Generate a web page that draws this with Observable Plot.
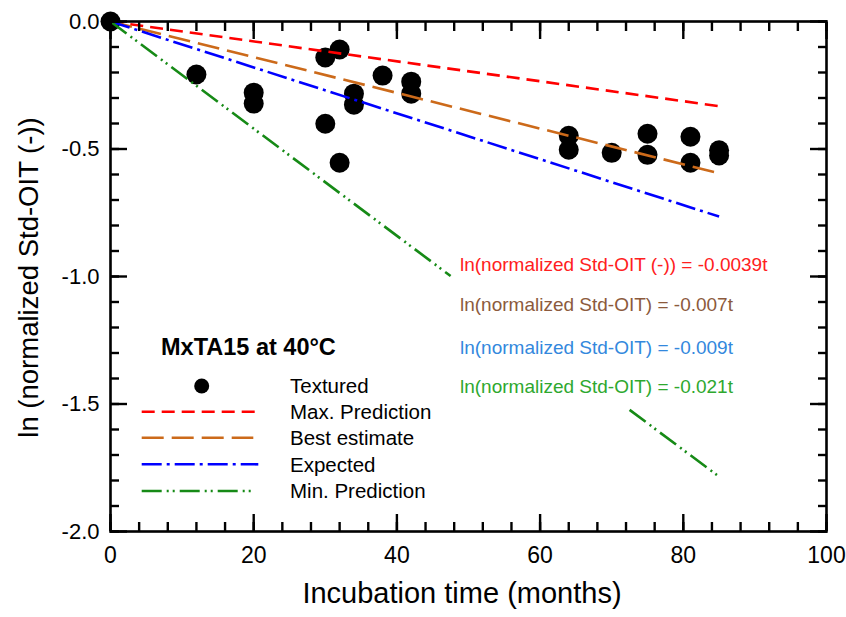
<!DOCTYPE html>
<html>
<head>
<meta charset="utf-8">
<script src="https://cdn.jsdelivr.net/npm/d3@7"></script>
<script src="https://cdn.jsdelivr.net/npm/@observablehq/plot@0.6"></script>
<style>
  html, body { margin: 0; padding: 0; background: #fff; }
  #wrap { position: relative; width: 846px; height: 617px; }
  #legend { position: absolute; left: 0; top: 0; pointer-events: none; }
</style>
</head>
<body>
<div id="wrap"></div>
<script>
// ---- data ----
const sampleTimes  = [0, 12, 20, 20, 30, 32, 30, 32, 34, 34, 38, 42, 42, 64, 64, 70, 75, 75, 81, 81, 85, 85];
const sampleValues = [0, -0.208, -0.279, -0.322, -0.141, -0.110, -0.401, -0.554, -0.283, -0.326, -0.212, -0.236, -0.283, -0.448, -0.503, -0.515, -0.440, -0.523, -0.452, -0.554, -0.505, -0.525];

const seriesNames  = ["Max. Prediction", "Best estimate", "Expected", "Min. Prediction"];
const seriesColors = ["#ff0000", "#cc6a1a", "#0000ff", "#168a16"];
const seriesDashes = ["13,7", "22,8", "20,5,3,5", "20,5,2,4,2,5"];
const maxTimes = [0, 85],   maxValues = [0, -0.332];
const bestTimes = [0, 85],  bestValues = [0, -0.595];
const expTimes = [0, 85],   expValues = [0, -0.765];
const minTimesA = [0, 47.5],  minValuesA = [0, -0.998];
const minTimesB = [72.5, 85], minValuesB = [-1.523, -1.785];

const equationTexts  = [
  "ln(normalized Std-OIT (-)) = -0.0039t",
  "ln(normalized Std-OIT) = -0.007t",
  "ln(normalized Std-OIT) = -0.009t",
  "ln(normalized Std-OIT) = -0.021t"
];
const equationColors = ["#ff2020", "#8c5a3c", "#3388dd", "#2ea82e"];

const xMajor = [0, 20, 40, 60, 80, 100];
const xMinor = [0,4,8,12,16,20,24,28,32,36,40,44,48,52,56,60,64,68,72,76,80,84,88,92,96,100];
const yMajor = [0, -0.5, -1, -1.5, -2];
const yMajorLabels = ["0.0", "-0.5", "-1.0", "-1.5", "-2.0"];
const yMinor = [0,-0.1,-0.2,-0.3,-0.4,-0.5,-0.6,-0.7,-0.8,-0.9,-1,-1.1,-1.2,-1.3,-1.4,-1.5,-1.6,-1.7,-1.8,-1.9,-2];

const xLabel = "Incubation time (months)";
const yLabel = "ln (normalized Std-OIT (-))";
const legendTitle = "MxTA15 at 40°C";
const sampleName = "Textured";

// ---- tables ----
const samples = sampleTimes.map((t, i) => ({t, v: sampleValues[i]}));
const mk = (ts, vs, seg) => ts.map((t, i) => ({t, v: vs[i], seg}));
const lineData = [
  mk(maxTimes, maxValues, 0),
  mk(bestTimes, bestValues, 0),
  mk(expTimes, expValues, 0),
  [...mk(minTimesA, minValuesA, 0), ...mk(minTimesB, minValuesB, 1)]
];

const font = "'Liberation Sans', Arial, sans-serif";
const narrow = "'Liberation Sans Narrow', 'Liberation Sans', Arial, sans-serif";
const eqDy = [243.6, 283.6, 326.9, 365.4];

const chart = Plot.plot({
  width: 846,
  height: 617,
  marginLeft: 110,
  marginRight: 20,
  marginTop: 21,
  marginBottom: 86,
  style: {fontFamily: font, background: "#fff", overflow: "visible"},
  x: {domain: [0, 100]},
  y: {domain: [-2, 0]},
  marks: [
    Plot.dot(samples, {x: "t", y: "v", r: 10, fill: "black", stroke: "none"}),
    ...lineData.map((d, i) => Plot.line(d, {
      x: "t", y: "v", z: "seg",
      stroke: seriesColors[i], strokeWidth: 2.6,
      strokeDasharray: seriesDashes[i], strokeLinecap: "butt"
    })),
    ...equationTexts.map((txt, i) => Plot.text([txt], {
      frameAnchor: "top-left", dx: 349.5, dy: eqDy[i],
      textAnchor: "start", lineAnchor: "middle",
      fill: equationColors[i], fontSize: 19, fontFamily: font
    })),
    Plot.frame({stroke: "black", strokeWidth: 2.6}),
    // inward ticks on all four sides
    Plot.axisX(xMinor, {anchor: "bottom", tickSize: 9, dy: -9, fill: "none", strokeWidth: 2.4, label: null}),
    Plot.axisX(xMajor, {anchor: "bottom", tickSize: 17, dy: -17, fill: "none", strokeWidth: 2.4, label: null}),
    Plot.axisX(xMinor, {anchor: "top", tickSize: 9, dy: 9, fill: "none", strokeWidth: 2.4, label: null}),
    Plot.axisX(xMajor, {anchor: "top", tickSize: 17, dy: 17, fill: "none", strokeWidth: 2.4, label: null}),
    Plot.axisY(yMinor, {anchor: "left", tickSize: 9, dx: 9, fill: "none", strokeWidth: 2.4, label: null}),
    Plot.axisY(yMajor, {anchor: "left", tickSize: 17, dx: 17, fill: "none", strokeWidth: 2.4, label: null}),
    Plot.axisY(yMinor, {anchor: "right", tickSize: 9, dx: -9, fill: "none", strokeWidth: 2.4, label: null}),
    Plot.axisY(yMajor, {anchor: "right", tickSize: 17, dx: -17, fill: "none", strokeWidth: 2.4, label: null}),
    // tick labels
    Plot.axisX(xMajor, {anchor: "bottom", tickSize: 0, tickPadding: 15, label: null,
      fontSize: 23, fontFamily: narrow, fill: "black", tickFormat: d => String(d)}),
    Plot.axisY(yMajor, {anchor: "left", tickSize: 0, tickPadding: 11, label: null,
      fontSize: 22, fontFamily: font, fill: "black",
      tickFormat: d => yMajorLabels[yMajor.indexOf(d)]}),
    // axis titles
    Plot.text([xLabel], {frameAnchor: "bottom", dx: -6.5, dy: 62, lineAnchor: "middle", textAnchor: "middle",
      fontSize: 29, fontFamily: font, fill: "black"}),
    Plot.text([yLabel], {frameAnchor: "left", dx: -81, dy: 1, rotate: -90, lineAnchor: "middle", textAnchor: "middle",
      fontSize: 27.5, fontFamily: font, fill: "black"})
  ]
});

const wrap = document.getElementById("wrap");
wrap.appendChild(chart);

// ---- legend block (inside the plot area) ----
const lg = d3.select(wrap).append("svg")
  .attr("id", "legend").attr("width", 846).attr("height", 617)
  .style("font-family", font);
lg.append("text").attr("x", 161).attr("y", 354.8)
  .attr("font-size", 23.5).attr("font-weight", "bold").attr("fill", "black").text(legendTitle);
lg.append("circle").attr("cx", 201.7).attr("cy", 386).attr("r", 7.5).attr("fill", "black");
lg.append("text").attr("x", 290).attr("y", 392.7).attr("font-size", 20.5).attr("fill", "black").text(sampleName);
const legY = [411.7, 437.7, 464.3, 491];
const legEnd = [260, 253.3, 258.3, 254];
const legTextY = [419.3, 445, 471.7, 497.7];
seriesNames.forEach((name, i) => {
  lg.append("line").attr("x1", 141.7).attr("x2", legEnd[i]).attr("y1", legY[i]).attr("y2", legY[i])
    .attr("stroke", seriesColors[i]).attr("stroke-width", 2.6).attr("stroke-dasharray", seriesDashes[i]);
  lg.append("text").attr("x", 290).attr("y", legTextY[i]).attr("font-size", 20.5).attr("fill", "black").text(name);
});
</script>
</body>
</html>
